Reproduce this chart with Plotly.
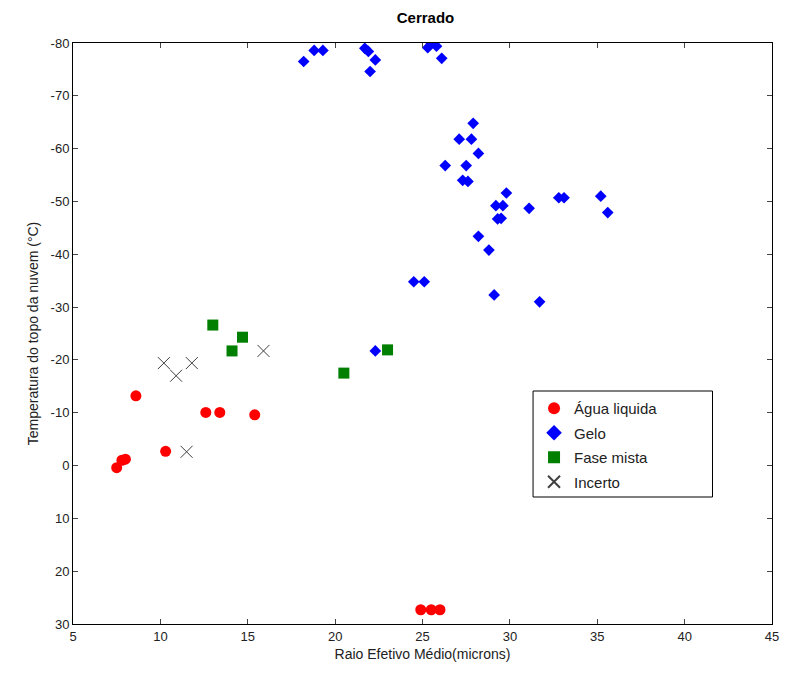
import plotly.graph_objects as go

# Água liquida
agua_x = [7.5, 7.8, 8.0, 8.6, 10.3, 12.6, 13.4, 15.4, 24.9, 25.5, 26.0]
agua_y = [0.4, -1.0, -1.2, -13.2, -2.7, -10.05, -10.05, -9.6, 27.3, 27.3, 27.3]

# Gelo
gelo_x = [18.2, 18.8, 19.3, 21.7, 21.9, 22.3, 22.0, 25.5, 25.3, 25.8, 26.1,
          27.9, 27.1, 27.8, 28.2, 26.3, 27.5, 27.3, 27.6,
          29.8, 29.2, 29.6, 29.3, 29.5, 31.1, 32.8, 33.1, 35.2, 35.6,
          28.2, 28.8, 24.5, 25.1, 29.1, 31.7, 22.3]
gelo_y = [-76.5, -78.6, -78.6, -79.0, -78.4, -76.8, -74.6, -80.0, -79.1, -79.4, -77.1,
          -64.8, -61.8, -61.8, -59.1, -56.8, -56.8, -54.0, -53.8,
          -51.6, -49.2, -49.2, -46.7, -46.8, -48.7, -50.7, -50.7, -51.0, -47.9,
          -43.4, -40.8, -34.8, -34.8, -32.3, -31.0, -21.7]

# Fase mista
mista_x = [13.0, 14.7, 14.1, 20.5, 23.0]
mista_y = [-26.6, -24.3, -21.7, -17.5, -21.9]

# Incerto
incerto_x = [10.2, 10.9, 11.8, 15.9, 11.5]
incerto_y = [-19.4, -17.0, -19.4, -21.7, -2.6]

x_ticks = [5, 10, 15, 20, 25, 30, 35, 40, 45]
y_ticks = [-80, -70, -60, -50, -40, -30, -20, -10, 0, 10, 20, 30]
y_ticktext = [str(v) for v in y_ticks]

font = "Liberation Sans, Arial, sans-serif"

fig = go.Figure()
fig.add_trace(go.Scatter(x=agua_x, y=agua_y, mode="markers", name="Água liquida",
                         legendgroup="a",
                         marker=dict(symbol="circle", size=11, color="#ff0000",
                                     line=dict(width=0))))
fig.add_trace(go.Scatter(x=gelo_x, y=gelo_y, mode="markers", name="Gelo",
                         legendgroup="b",
                         marker=dict(symbol="diamond", size=9, color="#0000ff",
                                     line=dict(width=0))))
fig.add_trace(go.Scatter(x=mista_x, y=mista_y, mode="markers", name="Fase mista",
                         legendgroup="c",
                         marker=dict(symbol="square", size=11, color="#007f00",
                                     line=dict(width=0))))
fig.add_trace(go.Scatter(x=incerto_x, y=incerto_y, mode="markers", name="Incerto",
                         legendgroup="d",
                         marker=dict(symbol="x-thin", size=12, color="#404040",
                                     line=dict(width=1, color="#404040"))))

# legend frame (pixel positions converted to paper fractions)
L, R, T, B = 73, 778, 43, 624
def px_x(p):
    return (p - L) / (R - L)
def px_y(p):
    return (B - p) / (B - T)

fig.update_layout(
    width=791, height=679,
    margin=dict(l=L, r=791 - R, t=T, b=679 - B),
    paper_bgcolor="white", plot_bgcolor="white",
    font=dict(family=font, size=13, color="#222222"),
    title=dict(text="<b>Cerrado</b>", x=(L + R) / 2 / 791, xanchor="center",
               y=1 - 18 / 679, yanchor="middle", font=dict(size=15, color="black")),
    showlegend=True,
    legend=dict(x=px_x(538), y=px_y(392), xanchor="left", yanchor="top",
                borderwidth=0, bgcolor="rgba(0,0,0,0)",
                font=dict(size=15, color="#222222"), itemsizing="constant",
                tracegroupgap=2, traceorder="grouped", itemwidth=30),
    shapes=[dict(type="rect", xref="paper", yref="paper",
                 x0=px_x(537), x1=px_x(718), y0=px_y(497), y1=px_y(391),
                 line=dict(color="black", width=1), fillcolor="white",
                 layer="above")],
)
fig.update_xaxes(range=[5, 45], tickvals=x_ticks, ticks="inside", ticklen=5,
                 showline=True, linecolor="black", linewidth=1, mirror="ticks",
                 showgrid=False, zeroline=False,
                 title=dict(text="Raio Efetivo Médio(microns)", standoff=6,
                            font=dict(size=14)))
fig.update_yaxes(range=[30, -80], tickvals=y_ticks, ticktext=y_ticktext,
                 ticks="inside", ticklen=5,
                 showline=True, linecolor="black", linewidth=1, mirror="ticks",
                 showgrid=False, zeroline=False,
                 title=dict(text="Temperatura do topo da nuvem (°C)", standoff=8,
                            font=dict(size=14)))

fig.write_html("out.html")
